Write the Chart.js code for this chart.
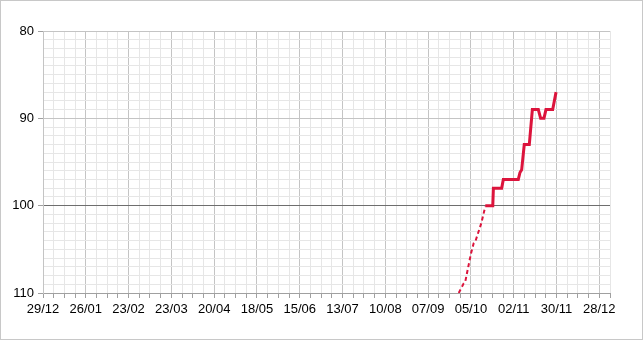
<!DOCTYPE html>
<html>
<head>
<meta charset="utf-8">
<script src="https://cdn.jsdelivr.net/npm/chart.js@4/dist/chart.umd.min.js"></script>
<style>
  html, body { margin: 0; padding: 0; background: #fff; }
  canvas { display: block; }
</style>
</head>
<body>
<canvas id="c" width="643" height="340"></canvas>
<script>
// Day offsets from 29/12 (start of axis)
const startDate = [2024, 11, 29];
const axisDays = [0, 371];
const dayStep = 7;
const labelEvery = 28;

// Dashed (estimated) part
const dashedDays   = [272, 275.3, 276.3, 280, 281.8, 282.9, 286.8, 289.4];
const dashedValues = [110, 108.9, 108.7, 105.5, 104.3, 104.1, 102, 100.1];

// Solid part
const solidDays   = [289.4, 294.3, 294.7, 300.1, 301.2, 311, 312.1, 313.2, 314.9, 318.2, 320.2, 324.1, 325.6, 327.8, 329.1, 333.5, 335.7];
const solidValues = [100, 100, 98, 98, 97, 97, 96.2, 95.9, 93, 93, 89, 89, 90, 90, 89, 89, 87];

const yRange = [80, 110];
const yLabelEvery = 10;
const referenceValue = 100;

function fmtDay(d) {
  const dt = new Date(startDate[0], startDate[1], startDate[2] + d);
  const dd = String(dt.getDate()).padStart(2, '0');
  const mm = String(dt.getMonth() + 1).padStart(2, '0');
  return dd + '/' + mm;
}
function pts(xs, ys) { return xs.map((x, i) => ({ x: x, y: ys[i] })); }

const frame = {
  id: 'frame',
  afterDraw(chart) {
    const ctx = chart.ctx;
    ctx.save();
    ctx.strokeStyle = '#c8c8c8';
    ctx.lineWidth = 1;
    ctx.strokeRect(0.5, 0.5, chart.width - 1, chart.height - 1);
    ctx.restore();
  }
};

const red = 'rgb(220,20,60)';
const font = { family: 'Liberation Sans, Arial, sans-serif', size: 13 };

new Chart(document.getElementById('c'), {
  type: 'line',
  data: {
    datasets: [
      { data: pts(dashedDays, dashedValues), borderColor: red, borderWidth: 2, borderDash: [4, 3], pointRadius: 0, tension: 0 },
      { data: pts(solidDays, solidValues), borderColor: red, borderWidth: 3, pointRadius: 0, tension: 0 }
    ]
  },
  options: {
    responsive: false,
    animation: false,
    events: [],
    layout: { padding: { top: 31, right: 33, left: 0, bottom: 0 } },
    plugins: { legend: { display: false }, tooltip: { enabled: false } },
    scales: {
      x: {
        type: 'linear',
        min: axisDays[0], max: axisDays[1],
        afterFit(s) { s.height = 47; },
        afterBuildTicks(s) {
          const t = [];
          for (let d = axisDays[0]; d <= axisDays[1]; d += dayStep) t.push({ value: d });
          s.ticks = t;
        },
        ticks: {
          autoSkip: false, maxRotation: 0, color: '#000', font: font, padding: 4,
          callback: v => (v % labelEvery === 0 ? fmtDay(v) : '')
        },
        grid: {
          color: c => (c.tick && c.tick.value % labelEvery === 0 ? '#c4c4c4' : '#e6e6e6'),
          tickColor: '#a0a0a0',
          tickLength: 5,
          lineWidth: 1
        },
        border: { color: '#a0a0a0' }
      },
      y: {
        reverse: true,
        min: yRange[0], max: yRange[1],
        afterFit(s) { s.width = 43; },
        ticks: {
          stepSize: 1, autoSkip: false, color: '#000', font: font, padding: 4,
          callback: v => (v % yLabelEvery === 0 ? String(v) : '')
        },
        grid: {
          color: c => {
            const v = c.tick ? c.tick.value : null;
            if (v === referenceValue) return '#6e6e6e';
            if (v % yLabelEvery === 0) return '#c4c4c4';
            return '#e6e6e6';
          },
          tickColor: c => (c.tick && c.tick.value % yLabelEvery === 0 ? '#a0a0a0' : 'rgba(0,0,0,0)'),
          tickLength: 5
        },
        border: { color: '#c4c4c4' }
      }
    }
  },
  plugins: [frame]
});
</script>
</body>
</html>
